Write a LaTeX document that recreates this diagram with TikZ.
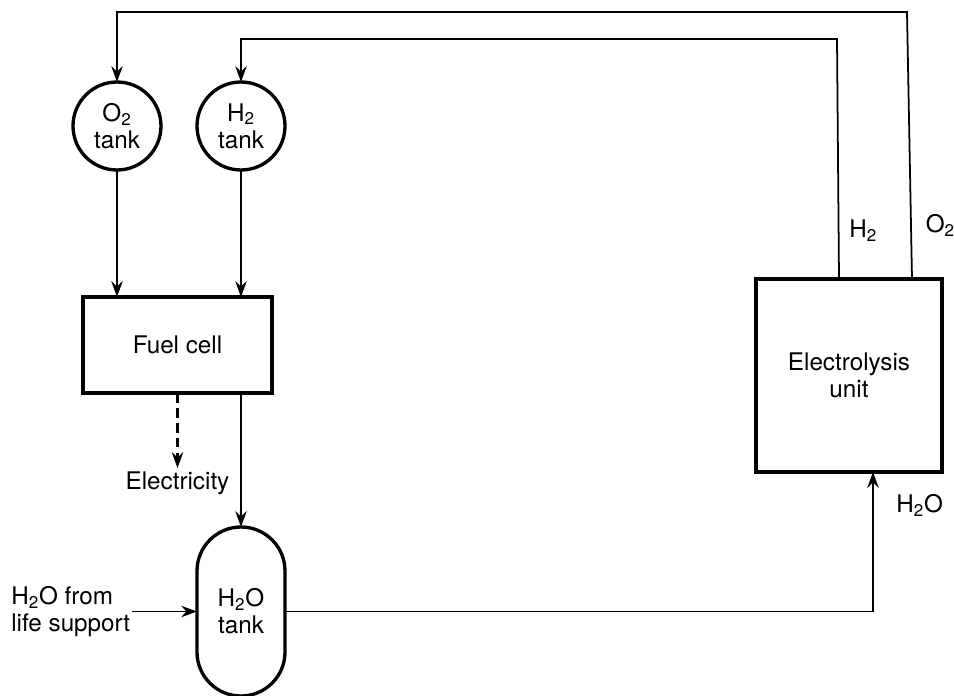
\documentclass[tikz,border=0pt]{standalone}
\usepackage{fontspec}
\setmainfont{TeX Gyre Heros}
\usetikzlibrary{arrows.meta, positioning, calc}

\begin{document}
\begin{tikzpicture}[
        font=\fontsize{13.8}{15.4}\selectfont,
        >={Stealth[length=9pt, width=6.5pt, inset=3pt]},
        every node/.style={outer sep=0pt},
        tank/.style={draw, circle, line width=1.9pt, minimum size=1.76cm, inner sep=0pt, align=center},
        unit/.style={draw, rectangle, line width=1.9pt, align=center},
        store/.style={draw, rectangle, rounded corners=0.88cm, line width=1.9pt, minimum width=1.76cm, minimum height=3.38cm, align=center},
        flow/.style={->, line width=1pt},
        elec/.style={->, line width=1.4pt, dash pattern=on 5.5pt off 3pt}
    ]
        \useasboundingbox (0,0) rectangle (19.08,-13.92);

        \node[tank] (o2tank) at (2.34,-2.52) {O\textsubscript{2}\\tank};
        \node[tank, right=0.72cm of o2tank] (h2tank) {H\textsubscript{2}\\tank};

        \node[unit, minimum width=3.78cm, minimum height=1.92cm, below=2.54cm of o2tank, xshift=1.21cm] (fuelcell) {Fuel cell};
        \node[inner sep=2pt, below=1.5cm of fuelcell] (electricity) {Electricity};

        \node[store, below=7.14cm of h2tank] (h2otank) {H\textsubscript{2}O\\tank};
        \node[align=left, inner sep=1pt, left=1.3cm of h2otank] (lifesupport) {H\textsubscript{2}O from\\life support};

        \node[unit, line width=2.6pt, minimum width=3.72cm, minimum height=3.86cm, right=9.68cm of fuelcell, yshift=-0.61cm] (electrolysis) {Electrolysis\\unit};

        \coordinate (waterin) at ([xshift=0.48cm]electrolysis.south);
        \coordinate (h2out) at ([xshift=-0.2cm]electrolysis.north);
        \coordinate (o2out) at ([xshift=1.26cm]electrolysis.north);
        \coordinate (h2top) at ([yshift=0.86cm]h2tank.north);
        \coordinate (o2top) at ([yshift=1.4cm]o2tank.north);

        \draw[flow] (o2tank.south) -- (o2tank.south |- fuelcell.north);
        \draw[flow] (h2tank.south) -- (h2tank.south |- fuelcell.north);
        \draw[elec] (electricity.north |- fuelcell.south) -- (electricity.north);
        \draw[flow] (h2otank.north |- fuelcell.south) -- (h2otank.north);
        \draw[flow] (lifesupport.east) -- (h2otank.west);
        \draw[flow] (h2otank.east) -| node[pos=0.88, right=0.35cm] {H\textsubscript{2}O} (waterin);
        \draw[flow] (h2out) -- node[pos=0.2, right=0.1cm] {H\textsubscript{2}} ($(h2out |- h2top)+(-0.04,0)$) -- (h2top) -- (h2tank.north);
        \draw[flow] (o2out) -- node[pos=0.2, right=0.18cm] {O\textsubscript{2}} ($(o2out |- o2top)+(-0.1,0)$) -- (o2top) -- (o2tank.north);
    \end{tikzpicture}
\end{document}
